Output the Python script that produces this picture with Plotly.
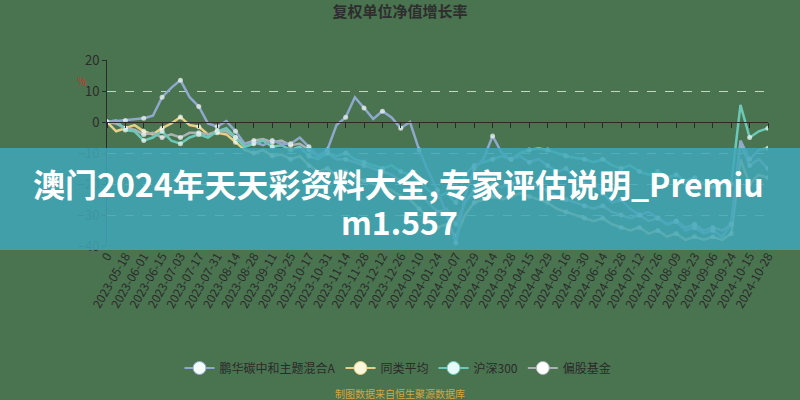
import plotly.graph_objects as go

# ---------------- data ----------------
tick_labels = [
    "0", "2023-05-18", "2023-06-01", "2023-06-15", "2023-07-03", "2023-07-17",
    "2023-07-31", "2023-08-14", "2023-08-28", "2023-09-11", "2023-09-25",
    "2023-10-17", "2023-10-31", "2023-11-14", "2023-11-28", "2023-12-12",
    "2023-12-26", "2024-01-10", "2024-01-24", "2024-02-07", "2024-02-29",
    "2024-03-14", "2024-03-28", "2024-04-15", "2024-04-29", "2024-05-16",
    "2024-05-30", "2024-06-14", "2024-06-28", "2024-07-12", "2024-07-26",
    "2024-08-09", "2024-08-23", "2024-09-06", "2024-09-24", "2024-10-15",
    "2024-10-28",
]
tick_pos = list(range(0, 361, 10))      # trading-day index of each tick label
x_idx = list(range(0, 361, 5))          # trading-day index of each sample

s_penghua = [0, 0.3, 0.5, 0.8, 1.2, 2, 8, 11, 13.5, 8,
             5, -0.5, -1.5, 0.3, -3, -7, -6.5, -7.5, -6, -7,
             -7, -5, -8, -11, -9, -1, 1.5, 8, 4.5, 1,
             3.5, 1.5, -2, 0, -9, -16, -22, -30, -39, -24,
             -15, -12, -4.5, -10, -12, -11, -13, -12, -14, -16,
             -15, -18, -20, -19, -23, -26, -25, -28, -30, -29,
             -31, -33, -32, -35, -34, -36, -35, -37, -33, -6,
             -12, -9, -8.5]
s_peer = [0, -3, -2, -1, -3, -4, -2, -0.5, 1.6, -1,
          -1.5, -4, -3.5, -4, -6.5, -9, -10, -9, -11, -10.5,
          -12, -11, -14, -16, -15, -17, -16, -18, -19, -20,
          -21, -22, -24, -25, -28, -31, -34, -33, -37, -30,
          -26, -25, -24, -25, -24, -23, -24, -25, -26, -28,
          -29, -30, -31, -32, -31, -33, -34, -35, -34, -36,
          -35, -37, -36, -38, -37, -38, -37, -38, -36, -12,
          -20, -17, -18]
s_hs300 = [0, 0.5, -2.6, -3, -6, -5, -3, -6, -7, -5,
           -4, -5, -3, -2, -5, -8, -7, -6, -8, -7.5,
           -9, -8, -11, -12, -10, -11, -10, -12, -13, -14,
           -15, -14, -16, -17, -19, -22, -24, -23, -26, -17,
           -14, -13, -12, -11, -12, -10, -9, -8.5, -9, -10,
           -11, -11.5, -12, -13, -12, -14, -15, -14, -16, -17,
           -16, -18, -17, -19, -18, -20, -21, -20, -20, 5.5,
           -5, -3, -2]
s_equity = [0, -0.5, -2, -2.5, -4, -3.5, -5, -4, -5, -3.5,
            -3.5, -4, -3, -3, -5, -7, -6, -5.5, -6.5, -6,
            -7.5, -7, -9, -11, -10, -12, -12, -13, -14, -15,
            -16, -17, -19, -20, -23, -26, -29, -28, -33, -26,
            -22, -21, -20, -21, -20, -19, -20, -21, -22, -24,
            -25, -26, -27, -28, -27, -29, -30, -31, -30, -32,
            -31, -33, -32, -34, -33, -35, -34, -35, -33, -7,
            -14, -12, -15]

series_names = ["鹏华碳中和主题混合A", "同类平均", "沪深300", "偏股基金"]
series_values = [s_penghua, s_peer, s_hs300, s_equity]
line_colors = ["#8fa9cc", "#e6cf86", "#6cc9b8", "#a9b1b3"]
legend_fill = ["#f4fbfb", "#fbf7dc", "#e6fbf7", "#ffffff"]

FONT = "Noto Sans CJK SC"
BG = "#4a7350"
TXT = "#2b2b2b"

W, H = 800, 400
L, R, T, B = 107, 32, 60, 154
PW, PH = W - L - R, H - T - B


def px_x(x):
    return (x - L) / PW


def px_y(y):
    return (H - B - y) / PH


fig = go.Figure()

marker_sizes = [5 if i % 2 == 0 else 0 for i in range(len(x_idx))]

order = [1, 3, 2, 0]
for k in order:
    fig.add_trace(go.Scatter(
        x=x_idx, y=series_values[k], mode="lines+markers",
        line=dict(color=line_colors[k], width=2.5),
        marker=dict(size=marker_sizes, color="#f2f8f6", line=dict(width=0)),
        showlegend=False, hoverinfo="skip", name=series_names[k],
    ))

for k in range(4):
    fig.add_trace(go.Scatter(
        x=[None], y=[None], mode="lines+markers", name=series_names[k],
        line=dict(color=line_colors[k], width=2),
        marker=dict(size=13, color=legend_fill[k],
                    line=dict(color=line_colors[k], width=1)),
        showlegend=True,
    ))

fig.add_trace(go.Scatter(x=[0], y=[None], xaxis="x2", showlegend=False,
                         hoverinfo="skip", mode="lines"))

fig.update_layout(
    width=W, height=H,
    margin=dict(l=L, r=R, t=T, b=B),
    paper_bgcolor=BG, plot_bgcolor=BG,
    font=dict(family=FONT, color=TXT, size=12),
    title=dict(text="<b>复权单位净值增长率</b>", x=0.5, xanchor="center",
               y=1 - 12 / H, yanchor="middle",
               font=dict(family=FONT, size=15, color="#2e2e2e")),
    xaxis=dict(
        range=[0, 360], tickmode="array", tickvals=tick_pos, ticktext=tick_labels,
        tickangle=-60, tickfont=dict(size=12, color=TXT, family=FONT),
        showgrid=False, zeroline=False, showline=False, ticks="",
    ),
    xaxis2=dict(
        range=[0, 360], overlaying="x", anchor="free", position=2 / 3,
        side="bottom", tickmode="array", tickvals=tick_pos,
        showticklabels=False, ticks="outside", ticklen=5, tickcolor="#2b2b2b",
        showline=True, linecolor="#2b2b2b", linewidth=1,
        showgrid=False, zeroline=False,
    ),
    yaxis=dict(
        range=[-40, 20], tickvals=[-40, -30, -20, -10, 0, 10, 20],
        tickfont=dict(size=13, color=TXT, family=FONT),
        showgrid=True, gridcolor="rgba(215,232,215,0.85)", griddash="dash",
        gridwidth=1, zeroline=False,
        showline=True, linecolor="#2b2b2b", linewidth=1,
        ticks="outside", ticklen=4, tickcolor="#2b2b2b",
    ),
    legend=dict(orientation="h", x=px_x(398), xanchor="center", y=px_y(368),
                yanchor="middle", bgcolor="rgba(0,0,0,0)",
                font=dict(size=12, color=TXT, family=FONT),
                itemwidth=30, tracegroupgap=0),
)

fig.add_annotation(x=px_x(75), y=px_y(80), xref="paper", yref="paper",
                   text="%", showarrow=False, yanchor="middle",
                   font=dict(size=10, color="#c0392b", family=FONT))

fig.add_annotation(x=px_x(400), y=px_y(393), xref="paper", yref="paper",
                   text="制图数据来自恒生聚源数据库", showarrow=False,
                   yanchor="middle",
                   font=dict(size=10, color="#d4a640", family=FONT))

# banner overlay
fig.add_shape(type="rect", xref="paper", yref="paper",
              x0=px_x(0), x1=px_x(800), y0=px_y(250), y1=px_y(148),
              fillcolor="rgba(64,166,184,0.86)", line=dict(width=0),
              layer="above")
fig.add_annotation(x=px_x(398), y=px_y(183), xref="paper", yref="paper",
                   text="<b>澳门2024年天天彩资料大全,专家评估说明_Premiu</b>",
                   showarrow=False, yanchor="middle",
                   font=dict(size=32, color="#ffffff", family=FONT))
fig.add_annotation(x=px_x(399), y=px_y(221), xref="paper", yref="paper",
                   text="<b>m1.557</b>", showarrow=False, yanchor="middle",
                   font=dict(size=32, color="#ffffff", family=FONT))

fig.write_html("out.html",
               config={"displayModeBar": False},
               post_script="document.body.style.margin='0';"
                           "document.body.style.overflow='hidden';")
